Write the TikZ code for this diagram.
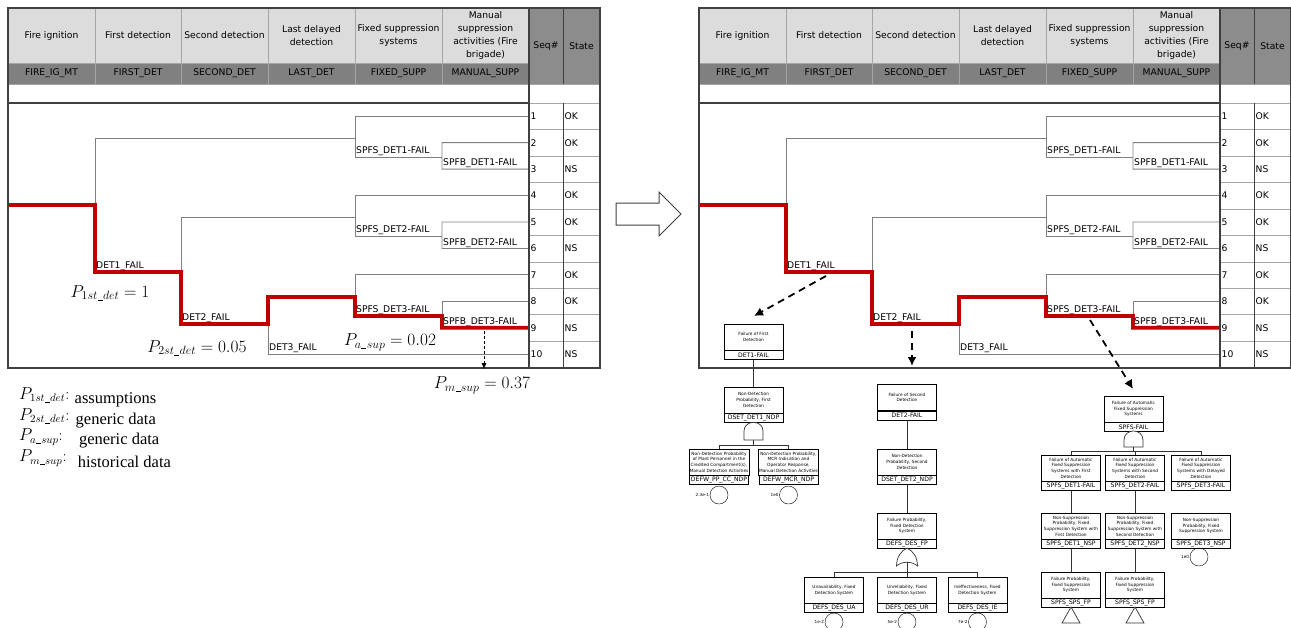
\documentclass[tikz,border=0pt]{standalone}
\usepackage{amsmath}
\usepackage{fontspec}
\usetikzlibrary{positioning,arrows.meta}
\newfontfamily\tabfont{DejaVu Sans}
\newfontfamily\legfont{Liberation Serif}
\newcommand{\usc}{\text{\kern0.03em\rule[-0.12ex]{0.42em}{0.35pt}\kern0.03em}}
\definecolor{hdrlight}{HTML}{DCDCDC}
\definecolor{hdrdark}{HTML}{808080}
\definecolor{seqhdr}{HTML}{8C8C8C}
\definecolor{pathred}{HTML}{C00000}
\definecolor{branchgray}{HTML}{7F7F7F}
\definecolor{gridgray}{HTML}{A6A6A6}
\definecolor{framegray}{HTML}{404040}

\tikzset{
  hdr/.style={font=\tabfont\fontsize{9.2}{12.7}\selectfont, align=center, inner sep=0pt},
  brlab/.style={font=\tabfont\fontsize{9.2}{10}\selectfont, anchor=south west, inner sep=1pt},
  seqlab/.style={font=\tabfont\fontsize{9.2}{10}\selectfont, anchor=west, inner sep=1.5pt},
  branch/.style={draw=branchgray, line width=0.9pt},
  fail/.style={draw=pathred, line width=3.8pt},
  ftdesc/.style={draw, fill=white, minimum width=59pt, minimum height=26pt, inner sep=0.5pt,
    align=center, font=\tabfont\fontsize{4.3}{5.7}\selectfont},
  ftid/.style={draw, fill=white, minimum width=59pt, minimum height=9pt, inner sep=0pt,
    font=\tabfont\fontsize{6.1}{6.5}\selectfont},
  basic/.style={draw, circle, minimum size=18pt, inner sep=0pt},
  evlab/.style={font=\tabfont\fontsize{4.2}{5}\selectfont, inner sep=0.5pt},
  link/.style={draw=black!80, line width=0.7pt},
  toft/.style={draw, line width=1.8pt, dash pattern=on 7pt off 5pt, -{Latex[length=9pt,width=9pt]}},
  pval/.style={font=\fontsize{17}{19}\selectfont, inner sep=0pt},
  legmath/.style={anchor=west, inner sep=0pt, font=\fontsize{16}{18}\selectfont},
  legtext/.style={anchor=base west, inner sep=0pt, font=\legfont\fontsize{16.5}{18}\selectfont},
}

\begin{document}
\begin{tikzpicture}[x=1pt, y=-1pt]
  \useasboundingbox (0,0) rectangle (1291,627);
  \clip (0,0) rectangle (1291,627);

  % event tree table, drawn for both panels
  \foreach \ox/\pn in {0/L,691/R}{
  \begin{scope}[xshift=\ox pt]
    \fill[hdrlight] (8,8) rectangle (529,63);
    \fill[hdrdark] (8,63) rectangle (529,84);
    \fill[seqhdr] (529,8) rectangle (600,84);
    \foreach \cx/\ttl/\cd [count=\k] in {51.5/Fire ignition/FIRE\_IG\_MT, 138/First detection/FIRST\_DET,
        224.5/Second detection/SECOND\_DET, 311.5/{Last delayed\\detection}/LAST\_DET,
        398.5/{Fixed suppression\\systems}/FIXED\_SUPP,
        485.5/{Manual\\suppression\\activities (Fire\\brigade)}/MANUAL\_SUPP}{
      \node[hdr] (\pn-h\k) at (\cx,35.5) {\ttl};
      \node[hdr] (\pn-c\k) at (\cx,73.5) {\cd};
    }
    \node[hdr] (\pn-seq) at (546,46) {Seq\#};
    \node[hdr] (\pn-state) at (581.5,46) {State};
    \foreach \vx in {95,181,268,355,442}
      \draw[gridgray] (\vx,8) -- (\vx,84);
    \draw[gridgray] (8,63) -- (529,63);
    \draw[gridgray] (8,84) -- (600,84);
    \draw[gridgray] (529,103) -- (600,103);

    % sequences
    \foreach \s/\st in {1/OK,2/OK,3/NS,4/OK,5/OK,6/NS,7/OK,8/OK,9/NS,10/NS}{
      \node[seqlab] (\pn-s\s) at (529,{103+26.45*(\s-0.5)}) {\s};
      \node[seqlab] (\pn-st\s) at (563,{103+26.45*(\s-0.5)}) {\st};
    }
    \foreach \r in {1,...,9}
      \draw[gridgray] (529,{103+26.45*\r}) -- (600,{103+26.45*\r});

    % branches
    \draw[branch] (95,205) |- (355,138);
    \draw[branch] (\pn-s1.west) -| (355,157) -- (442,157);
    \draw[branch] (\pn-s2.west) -| (442,169.1) -- (\pn-s3.west);
    \draw[branch] (181,272) |- (355,217);
    \draw[branch] (\pn-s4.west) -| (355,236) -- (442,236);
    \draw[branch] (\pn-s5.west) -| (442,248.5) -- (\pn-s6.west);
    \draw[branch] (268,297) |- (\pn-s10.west);
    \draw[branch] (355,297) |- (\pn-s7.west);
    \draw[branch] (442,316) |- (\pn-s8.west);
    \draw[fail] (8,205) -| (95,272) -| (181,324) -| (268,297) -| (355,316) -| (442,327.8) -- (\pn-s9.west);

    \node[brlab] (\pn-d1) at (95,272) {DET1\_FAIL};
    \node[brlab] (\pn-d2) at (181,324) {DET2\_FAIL};
    \node[brlab] (\pn-d3) at (268,354.3) {DET3\_FAIL};
    \node[brlab] (\pn-f1) at (355,157) {SPFS\_DET1-FAIL};
    \node[brlab] (\pn-m1) at (442,169.1) {SPFB\_DET1-FAIL};
    \node[brlab] (\pn-f2) at (355,236) {SPFS\_DET2-FAIL};
    \node[brlab] (\pn-m2) at (442,248.5) {SPFB\_DET2-FAIL};
    \node[brlab] (\pn-f3) at (355,316) {SPFS\_DET3-FAIL};
    \node[brlab] (\pn-m3) at (442,327.8) {SPFB\_DET3-FAIL};

    % frame
    \draw[framegray, line width=1.5pt] (8,103) -- (529,103);
    \draw[framegray] (563,8) -- (563,84);
    \draw[framegray] (563,103) -- (563,368);
    \draw[framegray, line width=1.2pt] (529,8) -- (529,368);
    \draw[framegray, line width=1.2pt] (8,8) rectangle (600,368);
  \end{scope}}

  % probabilities, left panel
  \node[pval] (p1) at (110,293) {$P_{1st\usc det} = 1$};
  \node[pval] (p2) at (197,348) {$P_{2st\usc det} = 0.05$};
  \node[pval] (pa) at (390,342) {$P_{a\usc sup} = 0.02$};
  \node[pval] (pm) at (482,385) {$P_{m\usc sup} = 0.37$};
  \coordinate (pm-a) at (484,331);
  \coordinate (pm-b) at (484,369);
  \draw[dash pattern=on 3pt off 2pt, -{Latex[length=6pt,width=5pt]}] (pm-a) -- (pm-b);

  \node[legmath] (lg1) at (19,395) {$P_{1st\usc det}$:};
  \node[legtext, right=5pt of lg1.base east] (lt1) {assumptions};
  \node[legmath] (lg2) at (19,416) {$P_{2st\usc det}$:};
  \node[legtext, right=6pt of lg2.base east] (lt2) {generic data};
  \node[legmath] (lg3) at (19,437) {$P_{a\usc sup}$:};
  \node[legtext, right=16pt of lg3.base east] (lt3) {generic data};
  \node[legmath] (lg4) at (19,458) {$P_{m\usc sup}$:};
  \node[legtext, right=11pt of lg4.base east] (lt4) {historical data};

  % big arrow between panels
  \draw[framegray, line width=1pt, fill=white] (616,203) -- (659,203) -- (659,192) -- (681,214)
    -- (659,236) -- (659,225) -- (616,225) -- cycle;

  % fault tree 1: first detection
  \node[ftdesc] (ft1-top) at (753.5,337) {Failure of First\\Detection};
  \node[ftid, below=0pt of ft1-top] (ft1-top-id) {DET1-FAIL};
  \node[ftdesc] (ft1-ndp) at (753.5,400) {Non-Detection\\Probability, First\\Detection};
  \node[ftid, below=0pt of ft1-ndp] (ft1-ndp-id) {DSET\_DET1\_NDP};
  \draw[link] (ft1-top-id) -- (ft1-ndp);
  \draw[link, fill=white] (744,440) -- (744,431) .. controls (744,419.5) and (763,419.5) .. (763,431) -- (763,440) -- cycle;
  \coordinate (g1) at (753.5,440);
  \coordinate (b1) at (753.5,445);
  \node[ftdesc] (ft1-pp) at (719,462) {Non-Detection Probability\\of Plant Personnel in the\\Credited Compartment(s),\\Manual Detection Activities};
  \node[ftid, below=0pt of ft1-pp] (ft1-pp-id) {DEFW\_PP\_CC\_NDP};
  \node[ftdesc] (ft1-mcr) at (788.5,462) {Non-Detection Probability,\\MCR Indication and\\Operator Response,\\Manual Detection Activities};
  \node[ftid, below=0pt of ft1-mcr] (ft1-mcr-id) {DEFW\_MCR\_NDP};
  \draw[link] (ft1-pp.north) |- (b1) -- (g1);
  \draw[link] (ft1-mcr.north) |- (b1);
  \node[basic, label={[evlab]left:2.3e-1}] (ft1-pp-ev) at (719,495) {};
  \node[basic, label={[evlab]left:1e0}] (ft1-mcr-ev) at (788.5,495) {};

  % fault tree 2: second detection
  \node[ftdesc] (ft2-top) at (907,397.5) {Failure of Second\\Detection};
  \node[ftid, below=0pt of ft2-top] (ft2-top-id) {DET2-FAIL};
  \node[ftdesc] (ft2-ndp) at (907,462) {Non-Detection\\Probability, Second\\Detection};
  \node[ftid, below=0pt of ft2-ndp] (ft2-ndp-id) {DSET\_DET2\_NDP};
  \node[ftdesc] (ft2-fp) at (907,526) {Failure Probability,\\Fixed Detection\\System};
  \node[ftid, below=0pt of ft2-fp] (ft2-fp-id) {DEFS\_DES\_FP};
  \draw[link] (ft2-top-id) -- (ft2-ndp);
  \draw[link] (ft2-ndp-id) -- (ft2-fp);
  \draw[link, fill=white] (896.5,566) .. controls (896.5,557) and (901,551) .. (907,548)
    .. controls (913,551) and (917.5,557) .. (917.5,566) .. controls (912,561) and (902,561) .. cycle;
  \coordinate (g2) at (907,562.3);
  \coordinate (b2) at (907,572);
  \node[ftdesc] (ft2-ua) at (834,590) {Unavailability, Fixed\\Detection System};
  \node[ftid, below=0pt of ft2-ua] (ft2-ua-id) {DEFS\_DES\_UA};
  \node[ftdesc] (ft2-ur) at (907,590) {Unreliability, Fixed\\Detection System};
  \node[ftid, below=0pt of ft2-ur] (ft2-ur-id) {DEFS\_DES\_UR};
  \node[ftdesc] (ft2-ie) at (977.5,590) {Ineffectiveness, Fixed\\Detection System};
  \node[ftid, below=0pt of ft2-ie] (ft2-ie-id) {DEFS\_DES\_IE};
  \draw[link] (ft2-ua.north) |- (b2) -- (g2);
  \draw[link] (ft2-ie.north) |- (b2);
  \draw[link] (ft2-ur) -- (b2);
  \node[basic, label={[evlab]left:1e-2}] (ft2-ua-ev) at (834,622) {};
  \node[basic, label={[evlab]left:5e-2}] (ft2-ur-ev) at (907,622) {};
  \node[basic, label={[evlab]left:7e-2}] (ft2-ie-ev) at (977.5,622) {};

  % fault tree 3: fixed suppression
  \node[ftdesc] (ft3-top) at (1133.5,409) {Failure of Automatic\\Fixed Suppression\\Systems};
  \node[ftid, below=0pt of ft3-top] (ft3-top-id) {SPFS-FAIL};
  \draw[link, fill=white] (1124,447) -- (1124,440) .. controls (1124,428) and (1143,428) .. (1143,440) -- (1143,447) -- cycle;
  \coordinate (g3) at (1133.5,447);
  \coordinate (b3) at (1133.5,451);
  \foreach \fx/\n/\w in {1071/1/First, 1135/2/Second, 1201/3/Delayed}{
    \node[ftdesc] (ft3-det\n) at (\fx,468) {Failure of Automatic\\Fixed Suppression\\Systems with \w\\Detection};
    \node[ftid, below=0pt of ft3-det\n] (ft3-det\n-id) {SPFS\_DET\n-FAIL};
  }
  \draw[link] (ft3-det1.north) |- (b3) -- (g3);
  \draw[link] (ft3-det3.north) |- (b3);
  \draw[link] (ft3-det2.north) -- (ft3-det2.north |- b3);
  \foreach \fx/\n/\w in {1071/1/First, 1135/2/Second}{
    \node[ftdesc] (ft3-nsp\n) at (\fx,526) {Non-Suppression\\Probability, Fixed\\Suppression System with\\\w\ Detection};
    \node[ftid, below=0pt of ft3-nsp\n] (ft3-nsp\n-id) {SPFS\_DET\n\_NSP};
    \node[ftdesc] (ft3-sps\n) at (\fx,585) {Failure Probability,\\Fixed Suppression\\System};
    \node[ftid, below=0pt of ft3-sps\n] (ft3-sps\n-id) {SPFS\_SPS\_FP};
    \draw[link] (ft3-det\n-id) -- (ft3-nsp\n);
    \draw[link] (ft3-nsp\n-id) -- (ft3-sps\n);
    \draw[link, fill=white] (\fx,607) -- (\fx-9,623) -- (\fx+9,623) -- cycle;
  }
  \node[ftdesc] (ft3-nsp3) at (1201,526) {Non-Suppression\\Probability, Fixed\\Suppression System};
  \node[ftid, below=0pt of ft3-nsp3] (ft3-nsp3-id) {SPFS\_DET3\_NSP};
  \node[basic, label={[evlab]left:1e0}] (ft3-nsp3-ev) at (1199,557) {};

  % links from the event tree to the fault trees
  \coordinate (R-d1x) at (826,276);
  \coordinate (ft1-in) at (754,316);
  \coordinate (R-d2x) at (912,331);
  \coordinate (ft2-in) at (912,366);
  \coordinate (R-f3x) at (1090,320);
  \coordinate (ft3-in) at (1133,389);
  \draw[toft] (R-d1x) -- (ft1-in);
  \draw[toft] (R-d2x) -- (ft2-in);
  \draw[toft] (R-f3x) -- (ft3-in);
\end{tikzpicture}
\end{document}
